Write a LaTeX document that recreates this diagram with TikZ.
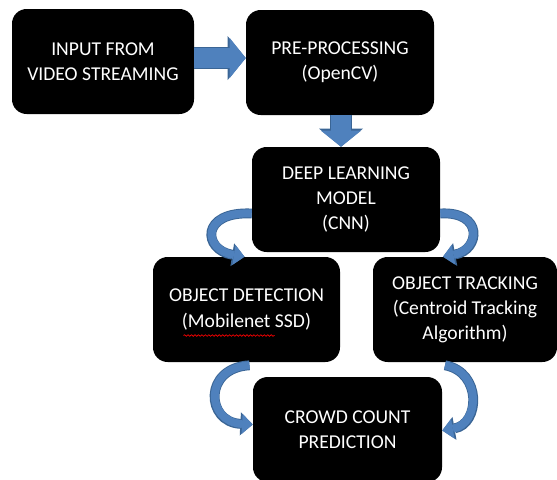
\documentclass[tikz,border=0pt]{standalone}
\usepackage{fontspec}
\newfontfamily\boxfam{Carlito}
\usetikzlibrary{arrows.meta,calc,decorations.pathmorphing}
\definecolor{arrowfill}{HTML}{4F81BD}
\definecolor{arrowline}{HTML}{3A6595}
\tikzset{
  box/.style={fill=black, rounded corners=11pt, text=white, align=center,
    font=\boxfam\fontsize{14.7}{18.8}\selectfont, inner sep=0pt,
    minimum height=78.75pt},
  blockarr/.style={draw=arrowfill, line width=15pt,
    -{Triangle[length=12pt,width=30pt,line width=0pt]},
    preaction={draw=arrowline, line width=16.5pt,
      -{Triangle[length=13.6pt,width=33pt,line width=0pt]}}},
  curvarr/.style={draw=arrowfill, line width=6pt,
    -{Triangle[length=8pt,width=15pt,line width=0pt]},
    preaction={draw=arrowline, line width=7.4pt,
      -{Triangle[length=9.3pt,width=17.4pt,line width=0pt]}}},
  squiggle/.style={draw=red, line width=0.5pt,
    decorate, decoration={snake, segment length=2.6pt, amplitude=0.6pt}}
}
\begin{document}
\begin{tikzpicture}[x=0.75pt,y=-0.75pt]
\useasboundingbox (0,0) rectangle (557,479);
\clip (0,0) rectangle (557,479);
\node[box, minimum width=136.5pt] (in1) at (103,61.5) {INPUT FROM\\VIDEO STREAMING};
\node[box, minimum width=141pt] (pre) at (340,62.5) {PRE-PROCESSING\\(OpenCV)};
\node[box, minimum width=141pt] (dl) at (346,199.5) {DEEP LEARNING\\MODEL\\(CNN)};
\node[box, minimum width=140.25pt] (od) at (246.5,309.5) {OBJECT DETECTION\\(Mobilenet SSD)};
\node[box, minimum width=138pt] (ot) at (465,309.5) {OBJECT TRACKING\\(Centroid Tracking\\Algorithm)};
\node[box, minimum width=141.75pt] (cc) at (347.5,429.5) {CROWD COUNT\\PREDICTION};

% straight block arrows
\draw[blockarr] ([yshift=2.6pt]in1.east) -- ([yshift=2.6pt]in1.east -| pre.west);
\draw[blockarr] (pre.south -| dl.north) ++(-5,0) coordinate (dtop) (dtop) -- (dtop |- dl.north);

% curved arrows
\draw[curvarr] ($(dl.west)+(0,14)$) .. controls (200,211) and (203,250) .. ($(od.north)+(-2,0)$);
\draw[curvarr] ($(dl.east)+(0,14)$) .. controls (484,211) and (480,250) .. ($(ot.north)+(-22,0)$);
\draw[curvarr] ($(od.south)+(3,3)$) .. controls (203,368) and (206,422) .. ($(cc.west)+(0,-5)$);
\draw[curvarr] ($(ot.south)+(-20,3)$) .. controls (482,372) and (480,424) .. ($(cc.east)+(0,1)$);

% spelling mark
\draw[squiggle] ($(od.center)+(-63,26)$) -- ($(od.center)+(28,26)$);
\end{tikzpicture}
\end{document}
